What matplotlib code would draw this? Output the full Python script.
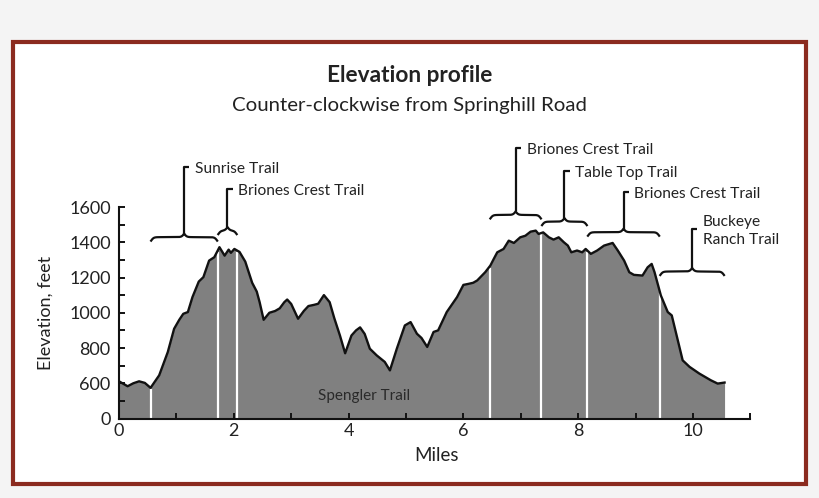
import numpy as np
import matplotlib
matplotlib.use("Agg")
import matplotlib.pyplot as plt
from matplotlib.patches import Rectangle

# ---------------- data ----------------
miles = [0.00, 0.15, 0.25, 0.35, 0.45, 0.55, 0.70, 0.85, 0.96, 1.05, 1.12, 1.20, 1.28,
         1.39, 1.47, 1.57, 1.66, 1.75, 1.84, 1.91, 1.95, 2.01, 2.10, 2.20, 2.27, 2.32,
         2.40, 2.45, 2.52, 2.62, 2.72, 2.80, 2.88, 2.93, 3.00, 3.12, 3.22, 3.30, 3.40,
         3.47, 3.57, 3.67, 3.75, 3.85, 3.94, 4.05, 4.13, 4.20, 4.28, 4.37, 4.49, 4.63,
         4.72, 4.84, 4.98, 5.08, 5.19, 5.27, 5.37, 5.48, 5.56, 5.71, 5.89, 6.00, 6.09,
         6.17, 6.24, 6.38, 6.47, 6.53, 6.59, 6.70, 6.79, 6.88, 6.99, 7.08, 7.17, 7.26,
         7.31, 7.39, 7.49, 7.57, 7.66, 7.75, 7.82, 7.88, 7.98, 8.07, 8.13, 8.22, 8.33,
         8.45, 8.60, 8.69, 8.80, 8.89, 8.97, 9.12, 9.21, 9.28, 9.33, 9.44, 9.56, 9.63,
         9.70, 9.82, 9.94, 10.11, 10.31, 10.43, 10.55]
elevation = [611, 583, 600, 611, 602, 574, 645, 777, 909, 960, 994, 1004, 1089,
             1177, 1202, 1296, 1315, 1372, 1324, 1358, 1340, 1362, 1345, 1290, 1220, 1170,
             1120, 1060, 960, 1000, 1010, 1025, 1060, 1075, 1050, 966, 1010, 1038, 1045,
             1051, 1100, 1060, 970, 870, 770, 871, 900, 917, 880, 796, 758, 721,
             673, 796, 928, 947, 881, 857, 806, 891, 900, 1004, 1089, 1158, 1164,
             1170, 1183, 1230, 1268, 1306, 1343, 1362, 1409, 1396, 1428, 1437, 1460, 1466,
             1447, 1456, 1428, 1415, 1428, 1400, 1381, 1343, 1353, 1343, 1362, 1334, 1353,
             1381, 1396, 1353, 1296, 1230, 1215, 1211, 1258, 1277, 1230, 1098, 1004, 985,
             891, 730, 693, 655, 617, 598, 604]

trail_breaks = [0.55, 1.72, 2.06, 6.46, 7.36, 8.16, 9.42]
trail_names = ["Sunrise Trail", "Briones Crest Trail", "Briones Crest Trail",
               "Table Top Trail", "Briones Crest Trail", "Buckeye\nRanch Trail"]
trail_starts = [0.55, 1.72, 6.46, 7.36, 8.16, 9.42]
trail_ends = [1.72, 2.06, 7.36, 8.16, 9.42, 10.55]
middle_trail = "Spengler Trail"

x_ticks = [0, 2, 4, 6, 8, 10]
y_ticks = [400, 600, 800, 1000, 1200, 1400, 1600]
y_tick_labels = ["0", "600", "800", "1000", "1200", "1400", "1600"]

# ---------------- layout / style ----------------
brace_levels = [1429, 1466, 1555, 1517, 1457, 1234]
hook_tops = [1826, 1702, 1934, 1804, 1685, 1475]

FONT = "Lato"
TXT = "#222222"
plt.rcParams["font.family"] = [FONT, "DejaVu Sans"]

fig = plt.figure(figsize=(8.2, 4.98), dpi=100, facecolor="#f4f4f4")

# framed white panel
frame = Rectangle((13.0 / 820, 14.5 / 498), (806.5 - 13.0) / 820, (455.5 - 14.5) / 498,
                  transform=fig.transFigure, facecolor="white", edgecolor="#8b2b1f",
                  linewidth=3.0, zorder=-10)
fig.patches.append(frame)

ax = fig.add_axes([119 / 820, (498 - 418.5) / 498, 631.4 / 820, 211.5 / 498])
ax.set_facecolor("none")
ax.set_zorder(5)

ax.fill_between(miles, 400, elevation, color="#808080", lw=0, zorder=1)
ax.plot(miles, elevation, color="#111111", lw=1.7, zorder=3, solid_joinstyle="round")

# white trail separators
tops = np.interp(trail_breaks, miles, elevation)
ax.vlines(trail_breaks, 400, tops - 8, color="white", lw=1.6, zorder=2)

ax.set_xlim(0, 11)
ax.set_ylim(400, 1600)
ax.set_xticks(x_ticks)
ax.set_xticks(np.arange(0, 12, 1), minor=True)
ax.set_yticks(y_ticks)
ax.set_yticklabels(y_tick_labels)
ax.set_yticks(np.arange(400, 1700, 100), minor=True)

for s in ["top", "right"]:
    ax.spines[s].set_visible(False)
for s in ["left", "bottom"]:
    ax.spines[s].set_linewidth(1.5)
    ax.spines[s].set_color("#111111")

ax.tick_params(axis="both", which="both", direction="in", length=4, width=1.4,
               color="#111111", labelsize=13, labelcolor=TXT)
ax.tick_params(axis="y", pad=6)
ax.tick_params(axis="x", pad=3)

# Spengler label
ax.text(4.27, 530, middle_trail, ha="center", va="center", fontsize=11,
        color="#2a2a2a", zorder=4)

BRACE_H = 80


def brace(x0, x1, y, h=BRACE_H, beta=45):
    n = 301
    xs = np.linspace(x0, x1, n)
    half = xs[: n // 2 + 1]
    yh = (1 / (1 + np.exp(-beta * (half - half[0])))
          + 1 / (1 + np.exp(-beta * (half - half[-1]))))
    yy = np.concatenate((yh, yh[-2::-1]))
    return xs, y + (0.5 * yy - 0.5) * h


for name, x0, x1, yb, ht in zip(trail_names, trail_starts, trail_ends,
                                brace_levels, hook_tops):
    bx, by = brace(x0 + 0.01, x1 - 0.01, yb)
    ax.plot(bx, by, color="#111111", lw=1.6, clip_on=False, zorder=5)
    xc = 0.5 * (x0 + x1)
    tip = yb + 0.25 * BRACE_H
    ax.plot([xc, xc, xc + 0.09], [tip, ht, ht], color="#111111", lw=1.6,
            clip_on=False, zorder=5, solid_capstyle="butt")
    ax.text(xc + 0.19, ht - 10, name, ha="left", va="center", fontsize=11.2,
            color=TXT, clip_on=False, linespacing=1.4)

# titles and axis labels
fig.text(0.5, 1 - 75 / 498, "Elevation profile", ha="center", va="center",
         fontsize=16.3, fontweight="bold", color=TXT)
fig.text(0.5, 1 - 105 / 498, "Counter-clockwise from Springhill Road", ha="center",
         va="center", fontsize=14.7, color=TXT)
fig.text(46 / 820, 1 - 313 / 498, "Elevation, feet", ha="center", va="center",
         rotation=90, fontsize=13, color=TXT)
fig.text(437 / 820, 1 - 455 / 498, "Miles", ha="center", va="center",
         fontsize=13.5, color=TXT)

fig.savefig("out.png", dpi=100, facecolor=fig.get_facecolor())
